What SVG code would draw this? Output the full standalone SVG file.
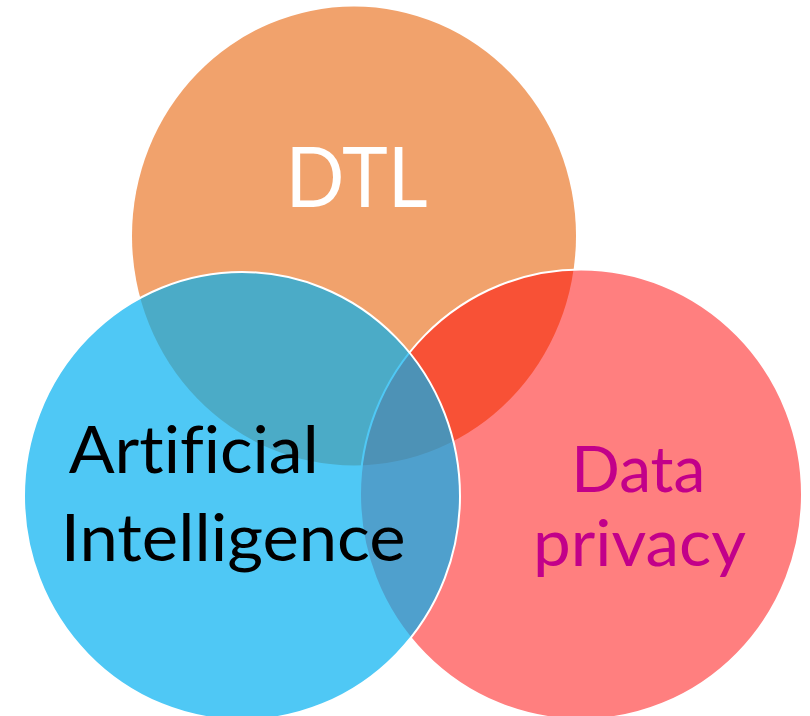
<svg xmlns="http://www.w3.org/2000/svg" width="810" height="716" viewBox="0 0 810 716">
  <style>
    .lbl { font-family: Lato, "Open Sans", "Liberation Sans", sans-serif; text-anchor: middle; font-variant-ligatures: none; font-feature-settings: "liga" 0; }
    .ring { stroke: #FFFFFF; stroke-width: 2; }
  </style>
  <rect x="0" y="0" width="810" height="716" fill="#FFFFFF"/>
  <g id="node-dtl">
    <ellipse cx="354" cy="236" rx="222" ry="229.5" fill="#F1A26C"/>
    <text class="lbl" x="356.6" y="207.3" font-size="84" fill="#FFFFFF" textLength="142" lengthAdjust="spacingAndGlyphs">DTL</text>
  </g>
  <g id="node-data-privacy">
    <ellipse class="ring" cx="581" cy="494.5" rx="221" ry="225" fill="#FF0000" fill-opacity="0.5"/>
    <text class="lbl" x="638.3" y="491.7" font-size="63" fill="#C2008A" textLength="134" lengthAdjust="spacingAndGlyphs">Data</text>
    <text class="lbl" x="639.5" y="566" font-size="63" fill="#C2008A" textLength="213" lengthAdjust="spacingAndGlyphs">privacy</text>
  </g>
  <g id="node-ai">
    <ellipse class="ring" cx="242" cy="496" rx="218" ry="224" fill="#00B0F0" fill-opacity="0.69"/>
    <text class="lbl" x="193.7" y="473.3" font-size="66" fill="#000000" textLength="250" lengthAdjust="spacingAndGlyphs">Artificial</text>
    <text class="lbl" x="233.2" y="560.7" font-size="66" fill="#000000" textLength="345" lengthAdjust="spacingAndGlyphs">Intelligence</text>
  </g>
</svg>
